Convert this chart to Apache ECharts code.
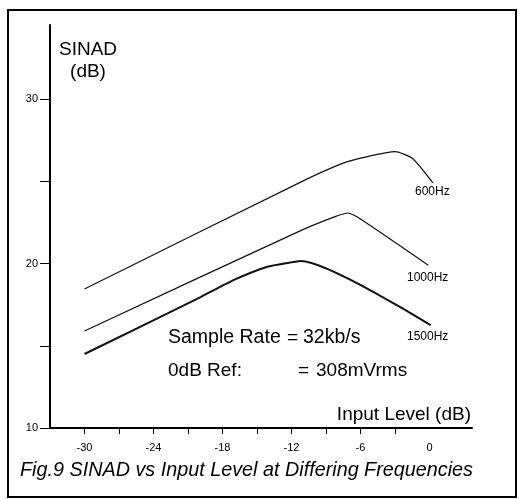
<!DOCTYPE html>
<html><head><meta charset="utf-8">
<script src="https://cdn.jsdelivr.net/npm/echarts@6/dist/echarts.min.js"></script>
<style>html,body{margin:0;padding:0;background:#fff}#c{width:519px;height:499px}</style>
</head><body><div id="c"></div>
<script>
// Data
const inputLevel600 = [-30, -11.2, -7.5, -5.4, -3.0, -1.5, 0.3];
const sinad600      = [18.45, 24.95, 26.1, 26.5, 26.8, 26.4, 24.9];
const inputLevel1000 = [-30, -11.2, -8.2, -7.1, -6.2, -0.1];
const sinad1000      = [15.9, 22.0, 22.85, 23.07, 22.8, 19.9];
const inputLevel1500 = [-30, -19.9, -17.0, -14.1, -12.2, -11.2, 0.1];
const sinad1500      = [14.5, 17.96, 19.0, 19.8, 20.05, 20.15, 16.26];
const xTicks = [-30, -27, -24, -21, -18, -15, -12, -9, -6, -3];
const xTickLabels = [-30, -24, -18, -12, -6, 0];
const yTicks = [10, 15, 20, 25, 30];
const yTickLabels = [10, 20, 30];
const seriesNames = ['600Hz', '1000Hz', '1500Hz'];

const F = '"Liberation Sans", Arial, Helvetica, sans-serif';
const pair = (xs, ys) => xs.map((x, i) => [x, ys[i]]);
const chart = echarts.init(document.getElementById('c'));
chart.setOption({
  animation: false,
  backgroundColor: '#fff',
  grid: { left: 50, right: 47, top: 25, bottom: 71 },
  xAxis: {
    type: 'value', min: -33, max: 3.7,
    axisLine: { onZero: false, lineStyle: { color: '#000', width: 2 } },
    axisTick: { customValues: xTicks, length: 6, lineStyle: { color: '#000', width: 1 } },
    axisLabel: { customValues: xTickLabels, color: '#000', fontSize: 11, fontFamily: F, margin: 14 },
    splitLine: { show: false }
  },
  yAxis: {
    type: 'value', min: 10, max: 34.5,
    axisLine: { onZero: false, lineStyle: { color: '#000', width: 2 } },
    axisTick: { customValues: yTicks, length: 10, lineStyle: { color: '#000', width: 1 } },
    axisLabel: { customValues: yTickLabels, color: '#000', fontSize: 11, fontFamily: F, margin: 12 },
    splitLine: { show: false }
  },
  series: [
    { name: seriesNames[0], type: 'line', data: pair(inputLevel600, sinad600), showSymbol: false, smooth: 0.2,
      lineStyle: { color: '#111', width: 1.2 } },
    { name: seriesNames[1], type: 'line', data: pair(inputLevel1000, sinad1000), showSymbol: false, smooth: 0.2,
      lineStyle: { color: '#111', width: 1.2 } },
    { name: seriesNames[2], type: 'line', data: pair(inputLevel1500, sinad1500), showSymbol: false, smooth: 0.2,
      lineStyle: { color: '#111', width: 2 } }
  ],
  graphic: [
    { type: 'rect', shape: { x: 8, y: 10, width: 508, height: 487 }, style: { fill: 'none', stroke: '#000', lineWidth: 2 } },
    { type: 'text', x: 88, y: 50, style: { text: 'SINAD', font: '19px ' + F, fill: '#000', align: 'center', verticalAlign: 'middle' } },
    { type: 'text', x: 88, y: 72, style: { text: '(dB)', font: '19px ' + F, fill: '#000', align: 'center', verticalAlign: 'middle' } },
    { type: 'text', x: 471, y: 415, style: { text: 'Input Level (dB)', font: '19px ' + F, fill: '#000', align: 'right', verticalAlign: 'middle' } },
    { type: 'text', x: 168, y: 338, style: { text: 'Sample Rate', font: '19.5px ' + F, fill: '#000', verticalAlign: 'middle' } },
    { type: 'text', x: 287, y: 338, style: { text: '=', font: '19px ' + F, fill: '#000', verticalAlign: 'middle' } },
    { type: 'text', x: 303, y: 338, style: { text: '32kb/s', font: '19.5px ' + F, fill: '#000', verticalAlign: 'middle' } },
    { type: 'text', x: 168, y: 371, style: { text: '0dB Ref:', font: '19px ' + F, fill: '#000', verticalAlign: 'middle' } },
    { type: 'text', x: 298, y: 371, style: { text: '=', font: '19px ' + F, fill: '#000', verticalAlign: 'middle' } },
    { type: 'text', x: 316, y: 371, style: { text: '308mVrms', font: '19px ' + F, fill: '#000', verticalAlign: 'middle' } },
    { type: 'text', x: 415, y: 192, style: { text: seriesNames[0], font: '12px ' + F, fill: '#000', verticalAlign: 'middle' } },
    { type: 'text', x: 407, y: 278, style: { text: seriesNames[1], font: '12px ' + F, fill: '#000', verticalAlign: 'middle' } },
    { type: 'text', x: 407, y: 337, style: { text: seriesNames[2], font: '12px ' + F, fill: '#000', verticalAlign: 'middle' } },
    { type: 'text', x: 20, y: 470, style: { text: 'Fig.9 SINAD vs Input Level at Differing Frequencies', font: 'italic 19.8px ' + F, fill: '#000', verticalAlign: 'middle' } }
  ]
});
</script></body></html>
